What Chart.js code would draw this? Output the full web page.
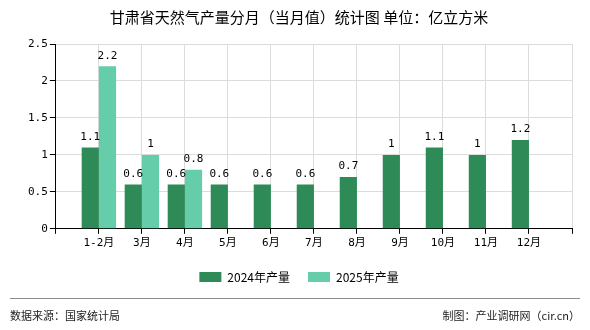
<!DOCTYPE html>
<html>
<head>
<meta charset="utf-8">
<script src="https://cdn.jsdelivr.net/npm/chart.js@4/dist/chart.umd.min.js"></script>
<style>
  html, body { margin: 0; padding: 0; background: #fff; }
  #wrap { width: 590px; height: 330px; position: relative; }
</style>
</head>
<body>
<div id="wrap"><canvas id="chart"></canvas></div>
<script>
const months = ["1-2月", "3月", "4月", "5月", "6月", "7月", "8月", "9月", "10月", "11月", "12月"];
const output2024 = [1.1, 0.6, 0.6, 0.6, 0.6, 0.6, 0.7, 1, 1.1, 1, 1.2];
const output2025 = [2.2, 1, 0.8, null, null, null, null, null, null, null, null];
const yTicks = [0, 0.5, 1, 1.5, 2, 2.5];

const numFont = "'DejaVu Sans Mono', 'Noto Sans CJK SC', monospace";
const cjkFont = "'Noto Sans CJK SC', 'DejaVu Sans', sans-serif";

// empty slot on each side, the axis starts one step before 1-2月
const labels = ["", ...months, ""];
const pad = (arr) => [null, ...arr, null];

const valueLabels = {
    id: "valueLabels",
    afterDatasetsDraw(chart) {
        const ctx = chart.ctx;
        ctx.save();
        ctx.font = "11px " + numFont;
        ctx.fillStyle = "#000";
        ctx.textAlign = "center";
        ctx.textBaseline = "bottom";
        chart.data.datasets.forEach((ds, i) => {
            const meta = chart.getDatasetMeta(i);
            meta.data.forEach((bar, j) => {
                const v = ds.data[j];
                if (v === null || v === undefined) return;
                ctx.fillText(String(v), bar.x, bar.y - 5);
            });
        });
        ctx.restore();
    }
};

const footer = {
    id: "footer",
    afterDraw(chart) {
        const ctx = chart.ctx;
        ctx.save();
        ctx.strokeStyle = "#8c8c8c";
        ctx.lineWidth = 1;
        ctx.beginPath();
        ctx.moveTo(10, 298.5);
        ctx.lineTo(580, 298.5);
        ctx.stroke();
        ctx.fillStyle = "#222";
        ctx.font = "11px " + cjkFont;
        ctx.textBaseline = "middle";
        ctx.textAlign = "left";
        ctx.fillText("数据来源：国家统计局", 10, 316);
        ctx.textAlign = "right";
        ctx.fillText("制图：产业调研网（cir.cn）", 580, 316);
        ctx.restore();
    }
};

const whiteBg = {
    id: "whiteBg",
    beforeDraw(chart) {
        const ctx = chart.ctx;
        ctx.save();
        ctx.fillStyle = "#fff";
        ctx.fillRect(0, 0, chart.width, chart.height);
        ctx.restore();
    }
};

new Chart(document.getElementById("chart"), {
    type: "bar",
    data: {
        labels: labels,
        datasets: [
            {
                label: "2024年产量",
                data: pad(output2024),
                backgroundColor: "#2e8b57",
                barPercentage: 1,
                categoryPercentage: 0.8
            },
            {
                label: "2025年产量",
                data: pad(output2025),
                backgroundColor: "#66cdaa",
                barPercentage: 1,
                categoryPercentage: 0.8
            }
        ]
    },
    options: {
        responsive: true,
        maintainAspectRatio: false,
        animation: false,
        layout: {
            padding: { left: 26, right: 18, top: 0, bottom: 37 }
        },
        scales: {
            x: {
                offset: false,
                grid: {
                    offset: false,
                    color: "#dcdcdc",
                    tickColor: "#000",
                    tickLength: 5,
                    drawOnChartArea: true
                },
                border: { color: "#000" },
                ticks: {
                    color: "#000",
                    font: { family: numFont, size: 11 },
                    maxRotation: 0,
                    autoSkip: false,
                    padding: 3
                }
            },
            y: {
                min: 0,
                max: 2.5,
                afterBuildTicks(axis) {
                    axis.ticks = yTicks.map(v => ({ value: v }));
                },
                grid: {
                    color: "#dcdcdc",
                    tickColor: "#000",
                    tickLength: 6
                },
                border: { color: "#000" },
                ticks: {
                    color: "#000",
                    font: { family: numFont, size: 11 },
                    padding: 2,
                    callback: (v) => String(v)
                }
            }
        },
        plugins: {
            title: {
                display: true,
                text: "甘肃省天然气产量分月（当月值）统计图 单位：亿立方米",
                color: "#000",
                font: { family: cjkFont, size: 15, weight: "normal" },
                padding: { top: 8, bottom: 18 }
            },
            legend: {
                position: "bottom",
                labels: {
                    color: "#000",
                    font: { family: cjkFont, size: 12 },
                    boxWidth: 22,
                    boxHeight: 10,
                    padding: 18
                }
            },
            tooltip: { enabled: false }
        }
    },
    plugins: [whiteBg, valueLabels, footer]
});
</script>
</body>
</html>
